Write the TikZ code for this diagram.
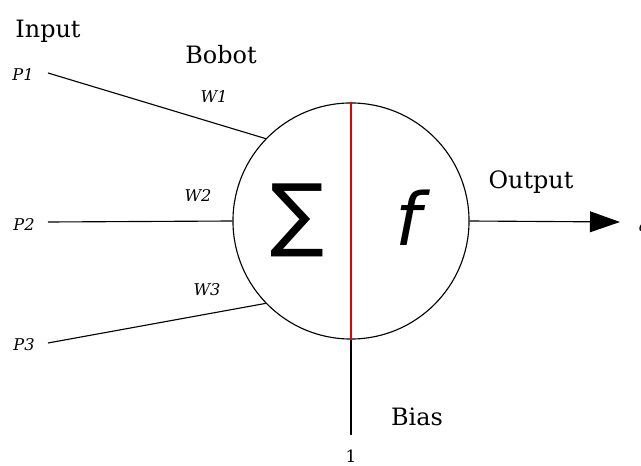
\documentclass[tikz,border=0pt]{standalone}
\usepackage{fontspec}
\setmainfont{DejaVu Serif}
\newfontfamily\simbolo{DejaVu Sans}
\usetikzlibrary{arrows.meta}
\definecolor{Rojo}{HTML}{E00000}

\begin{document}
\begin{tikzpicture}[x=0.025cm,y=-0.025cm,
  linea/.style={line width=0.8pt},
  titulo/.style={font=\fontsize{17}{20}\selectfont},
  peso/.style={font=\fontsize{11.5}{13}\selectfont\itshape}]
\useasboundingbox (0,0) rectangle (641,466);
\node[draw,circle,linea,minimum size=5.9cm,inner sep=0pt] (neurona) at (351,221) {};
\draw[Rojo,linea] (neurona.north) -- (neurona.south);
\node[font=\simbolo\fontsize{57}{57}\selectfont] (suma) at (298,220) {∑};
\node[font=\simbolo\itshape\fontsize{52}{52}\selectfont] (fun) at (408,218) {f};
\node[titulo] (input) at (48,31) {Input};
\node[titulo] (bobot) at (221,55) {Bobot};
\node[titulo] (output) at (531,182) {Output};
\node[titulo] (bias) at (417,417) {Bias};
\node[peso] (p1) at (23,74) {P1};
\node[peso] (p2) at (24,224) {P2};
\node[peso] (p3) at (24,345) {P3};
\node[peso] (w1) at (214,97) {W1};
\node[peso] (w2) at (198,195) {W2};
\node[peso] (w3) at (207,290) {W3};
\coordinate (e1) at (48,73);
\coordinate (e2) at (48,222);
\coordinate (e3) at (48,343);
\draw[linea] (e1) -- (neurona.136);
\draw[linea] (e2) -- (neurona.west);
\draw[linea] (e3) -- (neurona.224);
\coordinate (b) at (351,435);
\draw[linea] (neurona.south) -- (b);
\node[font=\fontsize{12}{14}\selectfont] (uno) at (351,456) {1};
\coordinate (o) at (620,222);
\draw[linea,-{Triangle[length=0.75cm,width=0.52cm]}] (neurona.east) -- (o);
\node[peso,anchor=west] (a) at (634,227) {a};
\end{tikzpicture}
\end{document}
